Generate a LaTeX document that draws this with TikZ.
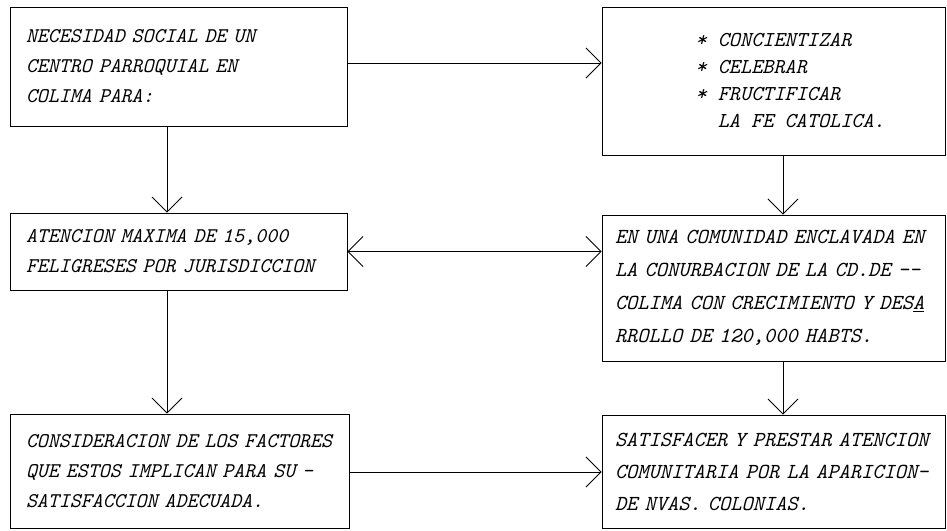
\documentclass[tikz,border=0pt]{standalone}
\usepackage{fontspec}
\usepackage{tikz}
\usetikzlibrary{arrows.meta,positioning}

\begin{document}
\begin{tikzpicture}[x=1pt,y=-1pt,
        caja/.style={draw, line width=0.9pt, align=left, inner xsep=16pt, inner ysep=0pt,
            font=\fontsize{20.9}{30}\selectfont\ttfamily\itshape},
        cajaizq/.style={caja, text width=305pt},
        cajader/.style={caja, inner xsep=13pt, text width=317pt},
        flecha/.style={line width=0.8pt, -{Straight Barb[length=15pt,width=30pt]}},
        dobleflecha/.style={line width=0.8pt, {Straight Barb[length=15pt,width=30pt]}-{Straight Barb[length=15pt,width=30pt]}}]
        \useasboundingbox (0,0) rectangle (947,530);

        % columna izquierda
        \node[cajaizq, minimum height=119pt] (necesidad) at (178.5,66.5)
            {NECESIDAD SOCIAL DE UN\\CENTRO PARROQUIAL EN\\COLIMA PARA:};
        \node[cajaizq, minimum height=77pt] (atencion) at (178.5,251.5)
            {ATENCION MAXIMA DE 15,000\\FELIGRESES POR JURISDICCION};
        \node[cajaizq, minimum height=114pt, text width=307pt] (factores) at (179.5,471)
            {CONSIDERACION DE LOS FACTORES\\QUE ESTOS IMPLICAN PARA SU -\\SATISFACCION ADECUADA.};

        % columna derecha
        \node[caja, minimum width=343pt, minimum height=148pt,
            font=\fontsize{21.2}{27}\selectfont\ttfamily\itshape] (fe) at (773.5,81)
            {* CONCIENTIZAR\\* CELEBRAR\\* FRUCTIFICAR\\\hphantom{*~}\rlap{LA FE CATOLICA.}};
        \node[cajader, minimum height=146pt,
            font=\fontsize{21.4}{33}\selectfont\ttfamily\itshape] (comunidad) at (773.5,288)
            {EN UNA COMUNIDAD ENCLAVADA EN\\LA CONURBACION DE LA CD.DE --\\COLIMA CON CRECIMIENTO Y DES\underline{A}\\RROLLO DE 120,000 HABTS.};
        \node[cajader, minimum height=113pt,
            font=\fontsize{21.4}{32}\selectfont\ttfamily\itshape] (colonias) at (773.5,471.5)
            {SATISFACER Y PRESTAR ATENCION\\COMUNITARIA POR LA APARICION-\\DE NVAS. COLONIAS.};

        % conexiones
        \draw[flecha] ([yshift=3.5pt]necesidad.east) -- ([yshift=3.5pt]necesidad.east -| fe.west);
        \draw[flecha] ([xshift=-11.5pt]necesidad.south) -- ([xshift=-11.5pt]necesidad.south |- atencion.north);
        \draw[flecha] ([xshift=9.5pt]fe.south) -- ([xshift=9.5pt]fe.south |- comunidad.north);
        \draw[dobleflecha] (atencion.east) -- (atencion.east -| comunidad.west);
        \draw[flecha] ([xshift=-11.5pt]atencion.south) -- ([xshift=-11.5pt]atencion.south |- factores.north);
        \draw[flecha] ([xshift=9.5pt]comunidad.south) -- ([xshift=9.5pt]comunidad.south |- colonias.north);
        \draw[flecha] ([yshift=-1pt]factores.east) -- ([yshift=-1pt]factores.east -| colonias.west);
\end{tikzpicture}
\end{document}
